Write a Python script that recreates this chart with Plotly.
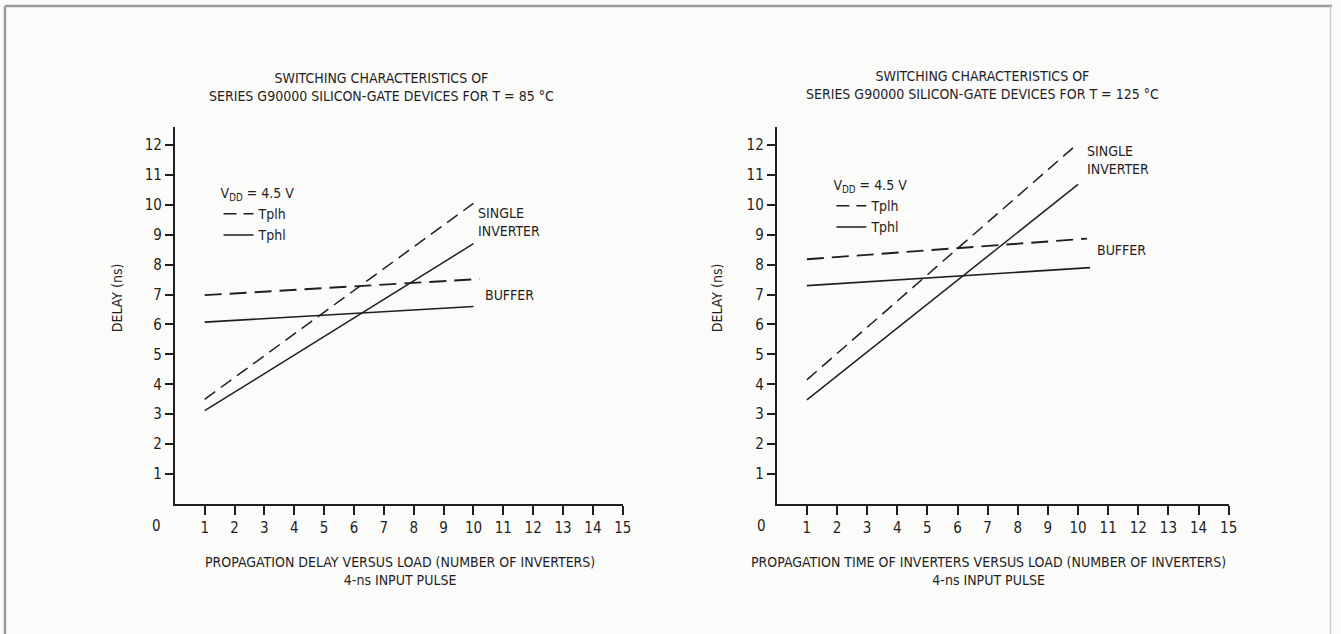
import plotly.graph_objects as go

# Load (number of inverters) and propagation delay (ns), T = 85 °C
load_85_inverter = [1, 10]
tplh_85_inverter = [3.5, 10.05]
tphl_85_inverter = [3.12, 8.7]
load_85_buffer_plh = [1, 10.2]
tplh_85_buffer = [6.98, 7.52]
load_85_buffer_phl = [1, 10]
tphl_85_buffer = [6.08, 6.6]

# Load (number of inverters) and propagation delay (ns), T = 125 °C
load_125_inverter = [1, 10]
tplh_125_inverter = [4.15, 12.05]
tphl_125_inverter = [3.48, 10.68]
load_125_buffer_plh = [1, 10.3]
tplh_125_buffer = [8.18, 8.87]
load_125_buffer_phl = [1, 10.4]
tphl_125_buffer = [7.3, 7.9]

x_ticks = list(range(1, 16))
y_ticks = list(range(1, 13))

FONT = "DejaVu Sans Condensed, Liberation Sans Narrow, Arial Narrow, sans-serif"
INK = "#1f1f1f"
PAPER = "#fbfbf9"
DASH_INV = "13px,7px"
DASH_BUF = "17px,8px"

W, H = 1341, 634


def px_x(v):
    return v / W


def px_y(v):
    return 1 - v / H


fig = go.Figure()


def add_panel(xa, ya, legend, load_inv, plh_inv, phl_inv, load_bp, plh_buf, load_bh, phl_buf):
    fig.add_trace(go.Scatter(x=load_inv, y=plh_inv, mode="lines", name="Tplh",
                             line=dict(color=INK, width=1.5, dash=DASH_INV),
                             xaxis=xa, yaxis=ya, legend=legend, hoverinfo="skip"))
    fig.add_trace(go.Scatter(x=load_inv, y=phl_inv, mode="lines", name="Tphl",
                             line=dict(color=INK, width=1.5),
                             xaxis=xa, yaxis=ya, legend=legend, hoverinfo="skip"))
    fig.add_trace(go.Scatter(x=load_bp, y=plh_buf, mode="lines", name="Tplh",
                             line=dict(color=INK, width=1.9, dash=DASH_BUF), showlegend=False,
                             xaxis=xa, yaxis=ya, hoverinfo="skip"))
    fig.add_trace(go.Scatter(x=load_bh, y=phl_buf, mode="lines", name="Tphl",
                             line=dict(color=INK, width=1.6), showlegend=False,
                             xaxis=xa, yaxis=ya, hoverinfo="skip"))


add_panel("x", "y", "legend", load_85_inverter, tplh_85_inverter, tphl_85_inverter,
          load_85_buffer_plh, tplh_85_buffer, load_85_buffer_phl, tphl_85_buffer)
add_panel("x2", "y2", "legend2", load_125_inverter, tplh_125_inverter, tphl_125_inverter,
          load_125_buffer_plh, tplh_125_buffer, load_125_buffer_phl, tphl_125_buffer)

y_dom = [px_y(504), px_y(127)]
left_dom = [px_x(176), px_x(627)]
right_dom = [px_x(782), px_x(1237)]

x_common = dict(range=[0, 15], tickvals=x_ticks, ticks="outside", ticklen=9, tickwidth=1.6,
                tickcolor=INK, showline=True, linecolor=INK, linewidth=2, showgrid=False,
                zeroline=False, tickfont=dict(family=FONT, size=15, color=INK), fixedrange=True)
y_common = dict(range=[0, 12.6], tickvals=y_ticks, ticks="outside", ticklen=8, tickwidth=1.6,
                tickcolor=INK, showline=True, linecolor=INK, linewidth=2, showgrid=False,
                zeroline=False, tickfont=dict(family=FONT, size=15, color=INK), fixedrange=True)

legend_common = dict(xanchor="left", yanchor="top", bgcolor="rgba(0,0,0,0)",
                     font=dict(family=FONT, size=14, color=INK), tracegroupgap=0,
                     itemwidth=30, title=dict(text="V<sub>DD</sub> = 4.5 V",
                                              font=dict(family=FONT, size=14, color=INK)))

fig.update_layout(
    width=W, height=H,
    margin=dict(l=0, r=0, t=0, b=0),
    paper_bgcolor=PAPER, plot_bgcolor="rgba(0,0,0,0)",
    font=dict(family=FONT, color=INK),
    xaxis=dict(domain=left_dom, anchor="y", **x_common),
    yaxis=dict(domain=y_dom, anchor="x", **y_common),
    xaxis2=dict(domain=right_dom, anchor="y2", **x_common),
    yaxis2=dict(domain=y_dom, anchor="x2", **y_common),
    legend=dict(x=px_x(220), y=px_y(180), **legend_common),
    legend2=dict(x=px_x(837), y=px_y(172), **legend_common),
)

annotations = []


def text(x, y, s, size=14, xanchor="center", **kw):
    annotations.append(dict(x=px_x(x), y=px_y(y), xref="paper", yref="paper", text=s,
                            xanchor=xanchor, yanchor="middle", showarrow=False,
                            font=dict(family=FONT, size=size, color=INK), **kw))


# Panel titles
text(384, 87, "SWITCHING CHARACTERISTICS OF<br>SERIES G90000 SILICON-GATE DEVICES FOR T = 85 °C")
text(989, 85, "SWITCHING CHARACTERISTICS OF<br>SERIES G90000 SILICON-GATE DEVICES FOR T = 125 °C")

# Curve labels
text(479, 222, "SINGLE<br>INVERTER", xanchor="left", align="left")
text(486, 295, "BUFFER", xanchor="left")
text(1092, 160, "SINGLE<br>INVERTER", xanchor="left", align="left")
text(1102, 250, "BUFFER", xanchor="left")

# Axis titles
text(118, 298, "DELAY (ns)", textangle=-90)
text(722, 298, "DELAY (ns)", textangle=-90)
text(403, 571, "PROPAGATION DELAY VERSUS LOAD (NUMBER OF INVERTERS)<br>4-ns INPUT PULSE")
text(995, 571, "PROPAGATION TIME OF INVERTERS VERSUS LOAD (NUMBER OF INVERTERS)<br>4-ns INPUT PULSE")

# Origin labels
text(158, 526, "0", size=15)
text(767, 526, "0", size=15)

fig.update_layout(annotations=annotations)

# Page frame
frame = dict(type="line", xref="paper", yref="paper", line=dict(color="#9c9c9a", width=2.5))
fig.add_shape(x0=px_x(5), x1=1, y0=px_y(6), y1=px_y(6), **frame)
fig.add_shape(x0=px_x(5), x1=px_x(5), y0=px_y(6), y1=0, **frame)
fig.add_shape(type="line", xref="paper", yref="paper", x0=px_x(1339.5), x1=px_x(1339.5),
              y0=px_y(6), y1=0, line=dict(color="#cfcfcd", width=1.5))

fig.write_html("out.html")
